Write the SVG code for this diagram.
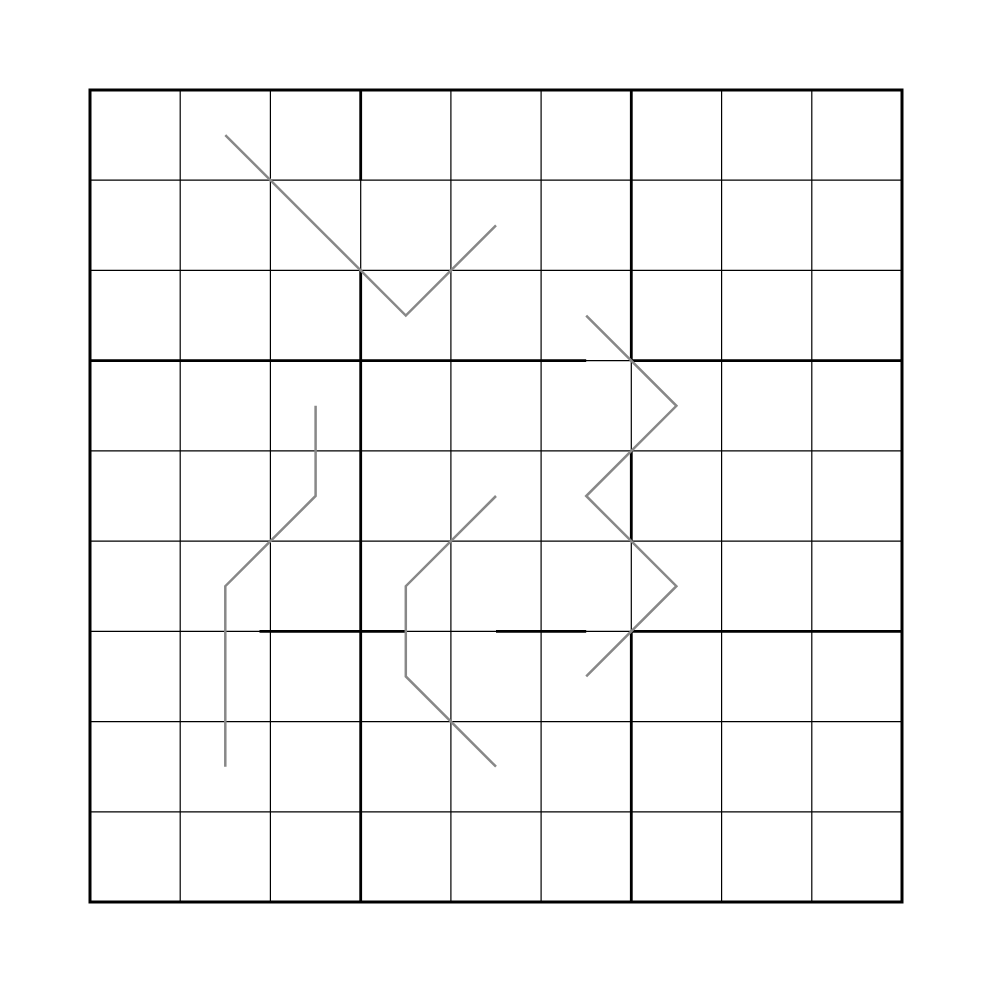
<svg xmlns="http://www.w3.org/2000/svg" width="992" height="992" viewBox="0 0 992 992">
<style>
.thin{stroke:#000;stroke-width:1.2;fill:none}
.thick{stroke:#000;stroke-width:2.8;fill:none;stroke-linecap:butt}
.line{stroke:#888;stroke-width:2.5;fill:none;stroke-linejoin:miter}
</style>
<rect width="992" height="992" fill="#fff"/>
<g id="grid">
<g id="thin-lines" class="thin">
<path d="M180.2 90V902M270.4 90V902M360.7 90V902M450.9 90V902M541.1 90V902M631.3 90V902M721.6 90V902M811.8 90V902"/>
<path d="M90 180.2H902M90 270.4H902M90 360.7H902M90 450.9H902M90 541.1H902M90 631.3H902M90 721.6H902M90 811.8H902"/>
</g>
<g id="box-lines" class="thick">
<path d="M90 360.7H586.2M631.3 360.7H902"/>
<path d="M259.5 631.3H405.8M496 631.3H586.2M631.3 631.3H902"/>
<path d="M360.7 90V180.2M360.7 270.4V902"/>
<path d="M631.3 90V360.7M631.3 450.9V541.1M631.3 631.3V902"/>
</g>
<rect id="border" x="90" y="90" width="812" height="812" fill="none" stroke="#000" stroke-width="3"/>
</g>
<g id="connectors" class="line">
<polyline id="line1" points="225.3,135.1 315.6,225.3 405.8,315.6 496,225.3"/>
<polyline id="line2" points="586.2,315.6 676.4,405.8 586.2,496 676.4,586.2 586.2,676.4"/>
<polyline id="line3" points="315.6,405.8 315.6,496 225.3,586.2 225.3,766.7"/>
<polyline id="line4" points="496,496 405.8,586.2 405.8,676.4 496,766.7"/>
</g>
</svg>
